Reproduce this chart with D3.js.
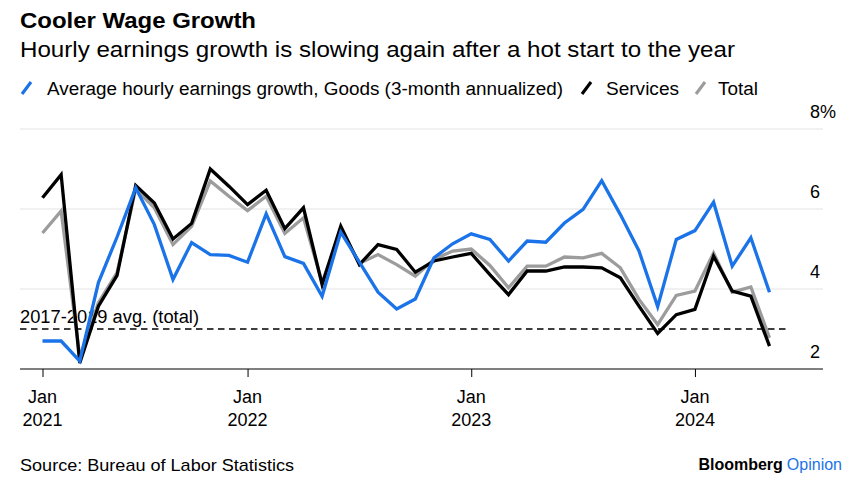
<!DOCTYPE html>
<html><head><meta charset="utf-8">
<script src="https://cdn.jsdelivr.net/npm/d3@7"></script>
<style>
body{margin:0;background:#fff;}
svg{display:block;font-family:"Liberation Sans", Arial, Helvetica, sans-serif;}
</style></head><body>
<svg id="chart" width="850" height="478"></svg>
<script>
// ---- data ----
const months = [
 "2021-02","2021-03","2021-04","2021-05","2021-06","2021-07","2021-08","2021-09","2021-10","2021-11","2021-12",
 "2022-01","2022-02","2022-03","2022-04","2022-05","2022-06","2022-07","2022-08","2022-09","2022-10","2022-11","2022-12",
 "2023-01","2023-02","2023-03","2023-04","2023-05","2023-06","2023-07","2023-08","2023-09","2023-10","2023-11","2023-12",
 "2024-01","2024-02","2024-03","2024-04","2024-05"];
const goods = [2.70,2.70,2.20,4.16,5.30,6.53,5.61,4.24,5.16,4.86,4.84,
 4.67,5.88,4.81,4.64,3.82,5.42,4.67,3.92,3.50,3.75,4.78,5.13,
 5.38,5.24,4.70,5.20,5.17,5.65,5.99,6.71,5.86,4.95,3.56,5.24,
 5.46,6.17,4.57,5.28,3.92];
const services = [6.28,6.86,2.15,3.57,4.34,6.59,6.15,5.25,5.64,7.00,6.57,
 6.11,6.47,5.51,6.03,4.11,5.57,4.61,5.11,4.99,4.42,4.70,4.80,
 4.89,4.36,3.86,4.45,4.45,4.55,4.55,4.53,4.28,3.57,2.89,3.36,
 3.49,4.82,3.95,3.82,2.57];
const total = [5.40,5.95,2.30,3.66,4.41,6.50,6.03,5.11,5.57,6.70,6.32,
 5.96,6.32,5.39,5.78,4.16,5.49,4.64,4.86,4.61,4.32,4.74,4.95,
 5.00,4.59,4.03,4.57,4.57,4.80,4.78,4.89,4.53,3.74,3.11,3.84,
 3.95,4.90,3.92,4.05,2.78];
const avgTotal = 3.0;
const yTicks = [2, 4, 6, 8];
const xTickMonths = ["2021-02","2022-01","2023-01","2024-01"];
const xTickLabels = [["Jan","2021"],["Jan","2022"],["Jan","2023"],["Jan","2024"]];
const seriesNames = ["Average hourly earnings growth, Goods (3-month annualized)","Services","Total"];

// ---- layout ----
const svg = d3.select("#chart");
const colors = {goods:"#1a73e8", services:"#000000", total:"#9c9c9c"};
const x = d3.scalePoint().domain(months).range([42.5, 769.5]).padding(0);
const y = d3.scaleLinear().domain([2, 8]).range([369, 129]);
const plotL = 20, plotR = 823;

function fit(sel, target){
  const w = sel.node().getComputedTextLength();
  if (w > 0) sel.attr("textLength", target).attr("lengthAdjust","spacingAndGlyphs");
  return sel;
}

// title
fit(svg.append("text").attr("x",20).attr("y",28).attr("font-size",22).attr("font-weight","bold")
  .attr("fill","#000").text("Cooler Wage Growth"), 236);
fit(svg.append("text").attr("x",20).attr("y",57).attr("font-size",21.5)
  .attr("fill","#000").text("Hourly earnings growth is slowing again after a hot start to the year"), 715);

// legend
const legendItems = [
  {name: seriesNames[0], color: colors.goods, mx: 22, tx: 47, w: 516},
  {name: seriesNames[1], color: colors.services, mx: 582, tx: 606, w: 73},
  {name: seriesNames[2], color: colors.total, mx: 696, tx: 718, w: 40}
];
legendItems.forEach(d => {
  svg.append("line").attr("x1", d.mx).attr("y1", 94).attr("x2", d.mx + 9).attr("y2", 82)
    .attr("stroke", d.color).attr("stroke-width", 3.2);
  fit(svg.append("text").attr("x", d.tx).attr("y", 95).attr("font-size", 18).attr("fill","#000").text(d.name), d.w);
});

// gridlines
svg.append("g").selectAll("line").data(yTicks.filter(v => v > 2)).join("line")
  .attr("x1", plotL).attr("x2", plotR).attr("y1", d => y(d)).attr("y2", d => y(d))
  .attr("stroke", "#e3e3e3").attr("stroke-width", 1);

// y labels
svg.append("g").selectAll("text").data(yTicks).join("text")
  .attr("x", 810).attr("y", d => y(d) - 11.5).attr("font-size", 18).attr("fill","#000")
  .text(d => d === 8 ? "8%" : d);

// x axis baseline + ticks
const xAxis = d3.axisBottom(x).tickValues(xTickMonths).tickSize(8).tickFormat("");
const gx = svg.append("g").attr("transform", `translate(0,${y(2)})`).call(xAxis);
gx.select(".domain").remove();
gx.selectAll(".tick line").attr("stroke","#000").attr("stroke-width",1);
svg.append("line").attr("x1", plotL).attr("x2", plotR).attr("y1", y(2)).attr("y2", y(2))
  .attr("stroke","#000").attr("stroke-width",1);
xTickMonths.forEach((m, i) => {
  const t = svg.append("text").attr("text-anchor","middle").attr("font-size",18).attr("fill","#000");
  t.append("tspan").attr("x", x(m)).attr("y", 403).text(xTickLabels[i][0]);
  t.append("tspan").attr("x", x(m)).attr("y", 426).text(xTickLabels[i][1]);
});

// average line
svg.append("line").attr("x1", plotL).attr("x2", 789).attr("y1", y(avgTotal)).attr("y2", y(avgTotal))
  .attr("stroke","#000").attr("stroke-width",1.6).attr("stroke-dasharray","6.5,4.5");
fit(svg.append("text").attr("x",20).attr("y",y(avgTotal) - 6.5).attr("font-size",18).attr("fill","#000")
  .text("2017-2019 avg. (total)"), 179);

// lines
const line = d3.line().x((d,i) => x(months[i])).y(d => y(d)).curve(d3.curveLinear);
[[total, colors.total],[services, colors.services],[goods, colors.goods]].forEach(([arr, c]) => {
  svg.append("path").datum(arr).attr("d", line).attr("fill","none").attr("stroke", c)
    .attr("stroke-width", 3.3).attr("stroke-linejoin","miter").attr("stroke-miterlimit", 4);
});

// footer
fit(svg.append("text").attr("x",20).attr("y",471).attr("font-size",17).attr("fill","#000")
  .text("Source: Bureau of Labor Statistics"), 274);
const bo = svg.append("text").attr("x",842).attr("y",470).attr("text-anchor","end").attr("font-size",16);
bo.append("tspan").attr("font-weight","bold").attr("fill","#000").text("Bloomberg");
bo.append("tspan").attr("fill","#1a73e8").attr("dx",4).text("Opinion");
</script>
</body></html>
